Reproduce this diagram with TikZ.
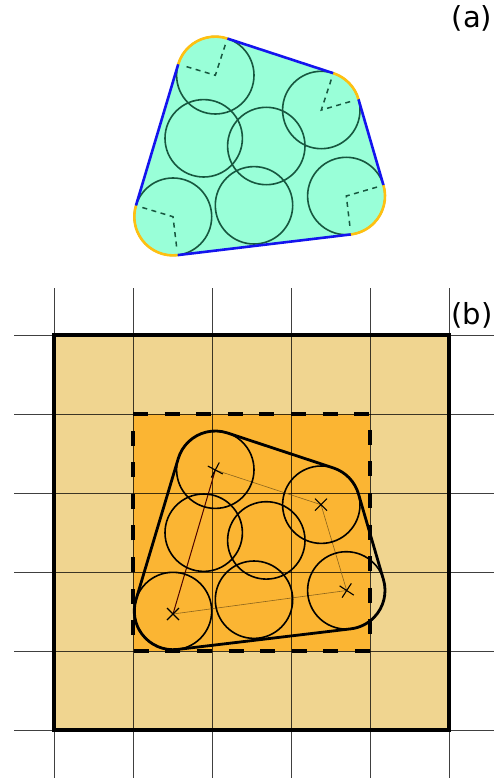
\documentclass[tikz,border=0pt]{standalone}
\usepackage{fontspec}
\setmainfont{DejaVu Sans}
\tikzset{
  gridline/.style={black,opacity=.75,line width=1pt},
  disc/.style={circle,draw=#1,line width=1.6pt,minimum size=77.4pt,inner sep=0pt,outer sep=0pt},
  tagtext/.style={font=\fontsize{29}{29}\selectfont,inner sep=0pt,anchor=base},
  radiusdash/.style={line width=1.5pt,color=darkgreen,dash pattern=on 5pt off 4.5pt},
  crossmark/.style={line width=1.1pt},
  linkline/.style={line width=.6pt,color=#1},
  hullarc/.style={line width=2.6pt,color=hullorange},
  hullline/.style={line width=2.6pt,color=hullblue}
}
\definecolor{darkgreen}{HTML}{17573F}
\definecolor{mint}{HTML}{99FFD8}
\definecolor{hullblue}{HTML}{1414EE}
\definecolor{hullorange}{HTML}{FFC010}
\definecolor{outerfill}{HTML}{F0D590}
\definecolor{innerfill}{HTML}{FBB533}
\newcommand{\hullpath}[4]{
  ($(#1)+(163.3:38.7pt)$) arc[start angle=163.3,end angle=71.9,radius=38.7pt]
  -- ($(#2)+(71.9:38.7pt)$) arc[start angle=71.9,end angle=16.2,radius=38.7pt]
  -- ($(#3)+(16.2:38.7pt)$) arc[start angle=16.2,end angle=-83.2,radius=38.7pt]
  -- ($(#4)+(-83.2:38.7pt)$) arc[start angle=-83.2,end angle=-196.7,radius=38.7pt] -- cycle
}
\usetikzlibrary{calc}
\begin{document}
\begin{tikzpicture}[x=1pt,y=-1pt]
\useasboundingbox (0,0) rectangle (500,778);
% ---- panel (a)
\coordinate (a1) at (215.3,75.3);
\coordinate (a2) at (203.7,138.3);
\coordinate (a3) at (266.3,146);
\coordinate (a4) at (321.3,110);
\coordinate (a5) at (254,205.3);
\coordinate (a6) at (346.3,196);
\coordinate (a7) at (173,216.7);
\fill[mint] \hullpath{a1}{a4}{a6}{a7};
\draw[radiusdash] ($(a1)+(71.9:32pt)$) -- (a1) -- ($(a1)+(163.3:32pt)$);
\draw[radiusdash] ($(a4)+(71.9:32pt)$) -- (a4) -- ($(a4)+(16.2:32pt)$);
\draw[radiusdash] ($(a6)+(16.2:32pt)$) -- (a6) -- ($(a6)+(-83.2:32pt)$);
\draw[radiusdash] ($(a7)+(163.3:32pt)$) -- (a7) -- ($(a7)+(-83.2:32pt)$);
\foreach \n in {1,...,7} \node[disc=darkgreen] (ca\n) at (a\n) {};
\draw[hullline] ($(a1)+(71.9:38.7pt)$) -- ($(a4)+(71.9:38.7pt)$);
\draw[hullline] ($(a4)+(16.2:38.7pt)$) -- ($(a6)+(16.2:38.7pt)$);
\draw[hullline] ($(a6)+(-83.2:38.7pt)$) -- ($(a7)+(-83.2:38.7pt)$);
\draw[hullline] ($(a7)+(163.3:38.7pt)$) -- ($(a1)+(163.3:38.7pt)$);
\draw[hullarc] ($(a1)+(163.3:38.7pt)$) arc[start angle=163.3,end angle=71.9,radius=38.7pt];
\draw[hullarc] ($(a4)+(71.9:38.7pt)$) arc[start angle=71.9,end angle=16.2,radius=38.7pt];
\draw[hullarc] ($(a6)+(16.2:38.7pt)$) arc[start angle=16.2,end angle=-83.2,radius=38.7pt];
\draw[hullarc] ($(a7)+(-83.2:38.7pt)$) arc[start angle=-83.2,end angle=-196.7,radius=38.7pt];
\node[tagtext] (taga) at (472,28) {(a)};
% ---- panel (b)
\fill[outerfill] (54,335) rectangle (449,730);
\fill[innerfill] (133,414) rectangle (370,651);
\foreach \x in {54,133,212,291,370,449} \draw[gridline] (\x,288) -- (\x,778);
\foreach \y in {335,414,493,572,651,730} \draw[gridline] (14,\y) -- (494,\y);
\draw[line width=4pt,line join=miter] (54,335) rectangle (449,730);
\draw[line width=4pt,dash pattern=on 15pt off 16.6pt] (133,414) -- (370,414) -- (370,651) -- (133,651) -- cycle;
\coordinate (b1) at (215.3,469.7);
\coordinate (b2) at (203.7,532.7);
\coordinate (b3) at (266.3,540.4);
\coordinate (b4) at (321.3,504.7);
\coordinate (b5) at (254,599.7);
\coordinate (b6) at (346.3,590.4);
\coordinate (b7) at (173,611);
\coordinate (x1) at (215.3,470);
\coordinate (x4) at (321,504.7);
\coordinate (x6) at (346.7,590.5);
\coordinate (x7) at (173,614);
\draw[linkline=black!45!innerfill] (x1) -- (x4);
\draw[linkline=black!45!innerfill] (x4) -- (x6);
\draw[linkline=black!45!innerfill] (x6) -- (x7);
\draw[linkline=black!70!red,line width=1pt] (x7) -- (x1);
\foreach \n in {1,...,7} \node[disc=black] (cb\n) at (b\n) {};
\draw[line width=2.8pt] \hullpath{b1}{b4}{b6}{b7};
\foreach \n/\a in {1/17,4/0,6/12,7/0}
  \draw[crossmark,rotate around={\a:(x\n)}] ($(x\n)+(-6pt,-6pt)$) -- ($(x\n)+(6pt,6pt)$) ($(x\n)+(-6pt,6pt)$) -- ($(x\n)+(6pt,-6pt)$);
\node[tagtext] (tagb) at (472,324) {(b)};
\end{tikzpicture}
\end{document}
